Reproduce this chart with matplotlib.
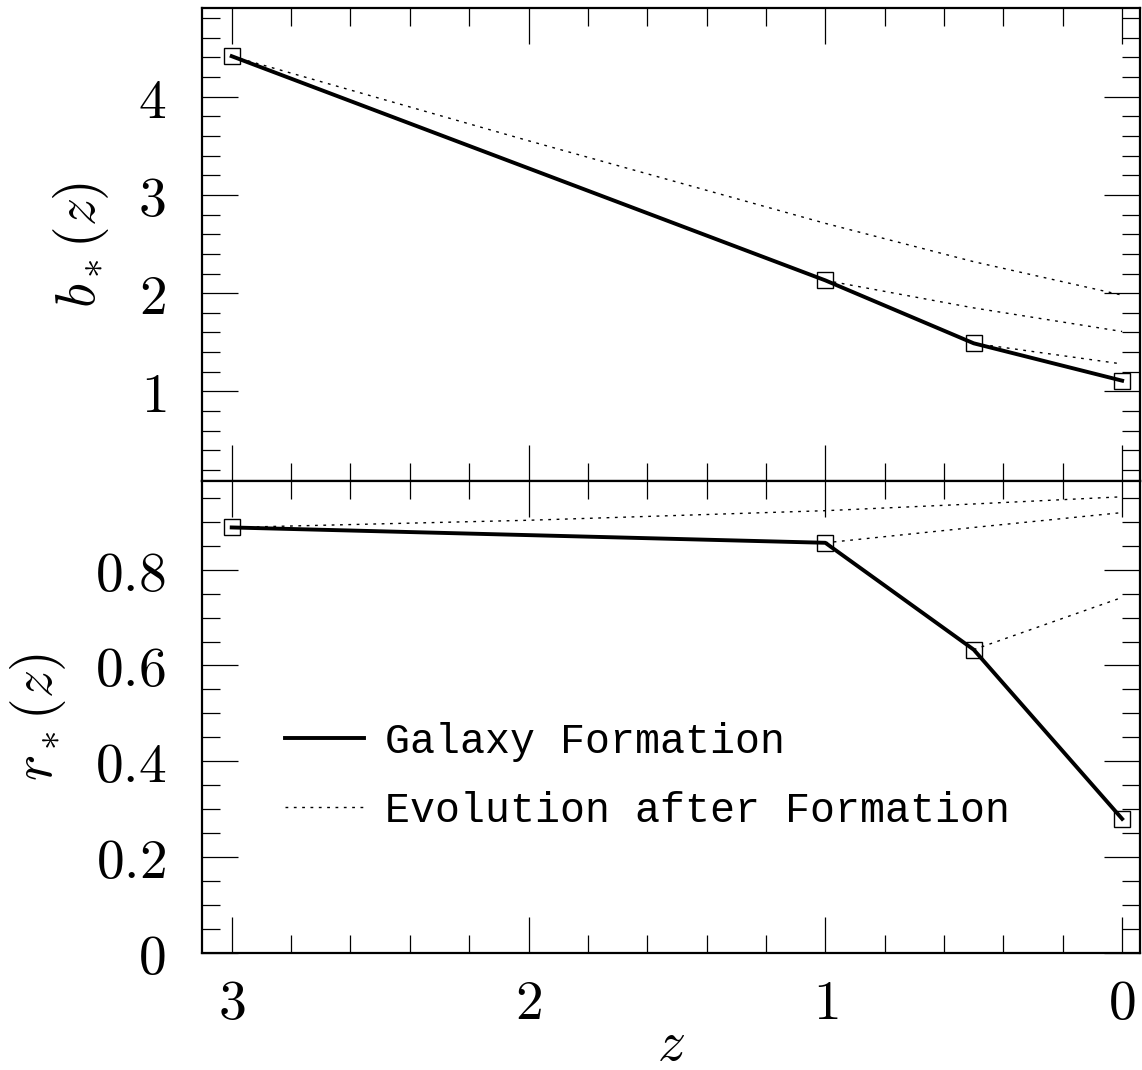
import matplotlib
matplotlib.use("Agg")
import matplotlib.pyplot as plt
from matplotlib.ticker import MultipleLocator, FuncFormatter
from matplotlib.lines import Line2D

plt.rcParams['mathtext.fontset'] = 'cm'

# galaxy formation redshifts and values
z_form = [3.0, 1.0, 0.5, 0.0]
b_form = [4.41, 2.13, 1.49, 1.11]
r_form = [0.888, 0.856, 0.633, 0.28]

# evolution after formation tracks (start redshift -> z=0)
z_ev1 = [3.0, 2.0, 1.0, 0.5, 0.0]
b_ev1 = [4.41, 3.55, 2.71, 2.32, 1.98]
r_ev1 = [0.888, 0.903, 0.923, 0.937, 0.952]

z_ev2 = [1.0, 0.5, 0.0]
b_ev2 = [2.13, 1.85, 1.61]
r_ev2 = [0.856, 0.888, 0.919]

z_ev3 = [0.5, 0.0]
b_ev3 = [1.49, 1.28]
r_ev3 = [0.633, 0.742]

fig = plt.figure(figsize=(11.42, 10.70), dpi=100)
ax1 = fig.add_axes([0.1769, 0.5505, 0.8213, 0.4420])
ax2 = fig.add_axes([0.1769, 0.1093, 0.8213, 0.4412])

dot = (0, (2.0, 4.0))
fmt = FuncFormatter(lambda v, p: '$%g$' % round(v, 2))

for ax in [ax1, ax2]:
    ax.set_xlim(3.1, -0.06)
    ax.xaxis.set_major_locator(MultipleLocator(1))
    ax.xaxis.set_minor_locator(MultipleLocator(0.2))
    ax.tick_params(which='both', direction='in', top=True, right=True,
                   width=0.9, labelsize=40)
    ax.tick_params(axis='y', which='both', pad=26)
    ax.tick_params(axis='x', which='both', pad=17)
    ax.tick_params(which='major', length=26)
    ax.tick_params(which='minor', length=13)
    for s in ax.spines.values():
        s.set_linewidth(1.6)
    ax.yaxis.set_major_formatter(fmt)
    ax.xaxis.set_major_formatter(fmt)

# top panel: bias
ax1.plot(z_form, b_form, color='black', lw=2.8, marker='s', ms=11,
         mfc='none', mec='black', mew=1.0, zorder=3)
for zz, bb in [(z_ev1, b_ev1), (z_ev2, b_ev2), (z_ev3, b_ev3)]:
    ax1.plot(zz, bb, color='black', lw=1.0, ls=dot)
ax1.set_ylim(0.09, 4.9)
ax1.yaxis.set_major_locator(MultipleLocator(1))
ax1.yaxis.set_minor_locator(MultipleLocator(0.2))
ax1.tick_params(axis='x', labelbottom=False)
ax1.set_ylabel(r'$b_*(z)$', fontsize=40, labelpad=19)

# bottom panel: correlation
ax2.plot(z_form, r_form, color='black', lw=2.8, marker='s', ms=11,
         mfc='none', mec='black', mew=1.0, zorder=3)
for zz, rr in [(z_ev1, r_ev1), (z_ev2, r_ev2), (z_ev3, r_ev3)]:
    ax2.plot(zz, rr, color='black', lw=1.0, ls=dot)
ax2.set_ylim(0, 0.985)
ax2.yaxis.set_major_locator(MultipleLocator(0.2))
ax2.yaxis.set_minor_locator(MultipleLocator(0.05))
ax2.set_ylabel(r'$r_*(z)$', fontsize=40, labelpad=19)
ax2.set_xlabel(r'$z$', fontsize=40, labelpad=-9)

h = [Line2D([], [], color='black', lw=2.8),
     Line2D([], [], color='black', lw=1.0, ls=dot)]
l = ['Galaxy Formation', 'Evolution after Formation']
ax2.legend(h, l, loc='upper left', bbox_to_anchor=(0.088, 0.49),
           frameon=False, borderpad=0, borderaxespad=0,
           handlelength=1.9, handletextpad=0.5, labelspacing=0.7,
           prop={'family': 'Liberation Mono', 'size': 30})

fig.savefig('out.png', dpi=100)
